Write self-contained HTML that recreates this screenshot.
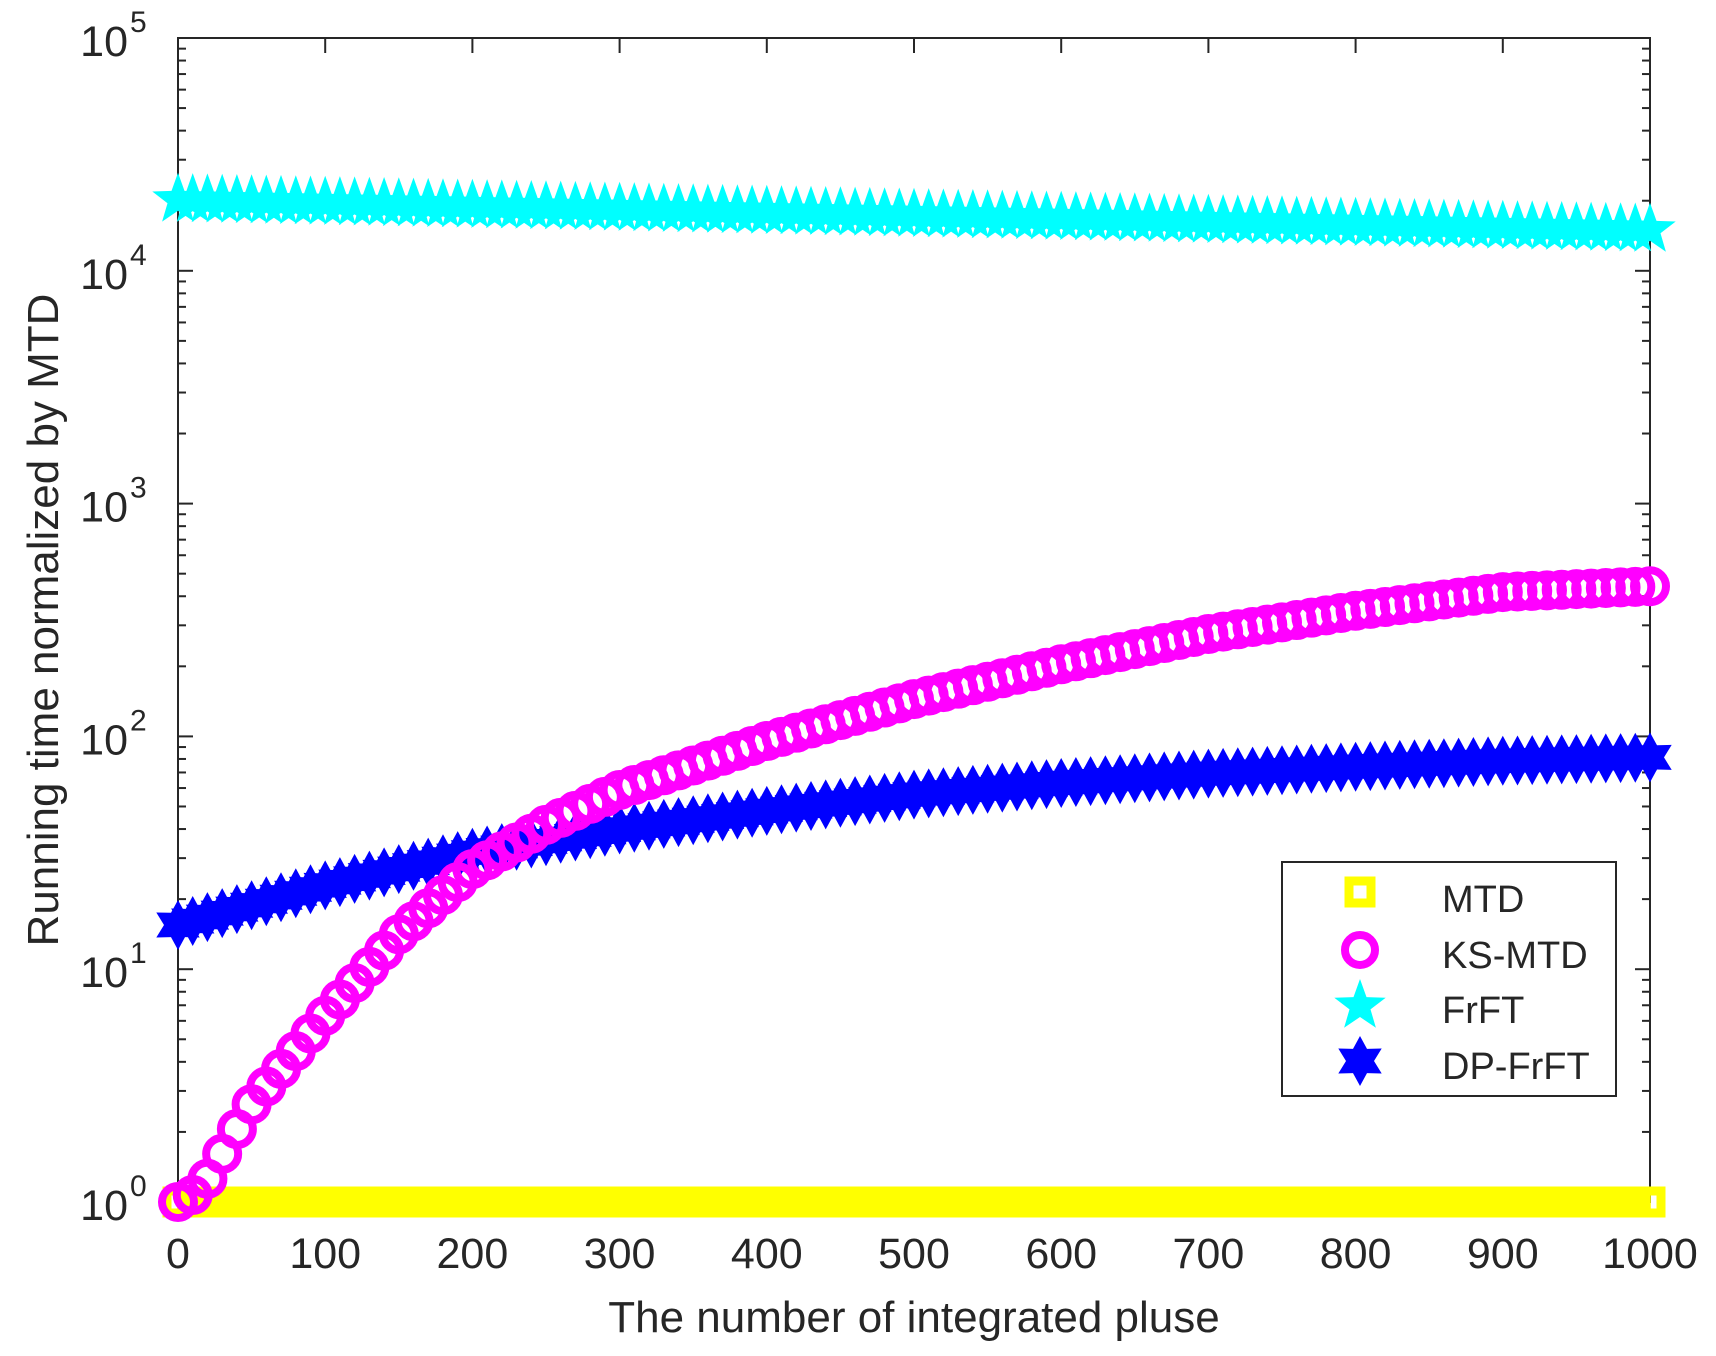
<!DOCTYPE html>
<html><head><meta charset="utf-8"><style>
html,body{margin:0;padding:0;background:#fff;}
svg{display:block;}
text{font-family:"Liberation Sans",Arial,sans-serif;fill:#262626;}
</style></head><body>
<svg id="s" width="1716" height="1356" viewBox="0 0 1716 1356" xmlns="http://www.w3.org/2000/svg">
<rect x="0" y="0" width="1716" height="1356" fill="#fff"/>
<rect x="178" y="38" width="1472" height="1164" fill="none" stroke="#262626" stroke-width="2"/>
<g id="ticks"></g>
<g id="data"></g>
<g id="labels" font-size="43"></g>
<text x="914" y="1332" font-size="44" text-anchor="middle">The number of integrated pluse</text>
<text transform="translate(58,620) rotate(-90)" font-size="44" text-anchor="middle">Running time normalized by MTD</text>
<g id="legend">
<rect x="1282" y="862" width="334" height="234" fill="#fff" stroke="#262626" stroke-width="2"/>
<text x="1442" y="912" font-size="38">MTD</text>
<text x="1442" y="968" font-size="38">KS-MTD</text>
<text x="1442" y="1023" font-size="38">FrFT</text>
<text x="1442" y="1079" font-size="38">DP-FrFT</text>
</g>
</svg>
<script>
var NS="http://www.w3.org/2000/svg";
var X0=178,X1=1650,Y0=1202,Y5=38,D=(Y0-Y5)/5;
function px(x){return X0+(X1-X0)*x/1000;}
function py(l){return Y0-l*D;}
function el(p,t,a){var e=document.createElementNS(NS,t);for(var k in a)e.setAttribute(k,a[k]);p.appendChild(e);return e;}
var T=document.getElementById('ticks'),L=document.getElementById('labels'),G=document.getElementById('data');
for(var d=0;d<5;d++){for(var m=1;m<10;m++){var y=py(d+Math.log10(m));var len=m==1?15:8;
el(T,'line',{x1:X0,x2:X0+len,y1:y,y2:y,stroke:'#262626','stroke-width':2});
el(T,'line',{x1:X1,x2:X1-len,y1:y,y2:y,stroke:'#262626','stroke-width':2});}}
for(var d=0;d<=5;d++){var y=py(d);var t=el(L,'text',{x:128,y:y+18,'text-anchor':'end'});t.textContent='10';
var s=el(L,'text',{x:130,y:y-6,'font-size':30});s.textContent=d;}
for(var i=0;i<=10;i++){var x=px(i*100);
el(T,'line',{x1:x,x2:x,y1:Y0,y2:Y0-15,stroke:'#262626','stroke-width':2});
el(T,'line',{x1:x,x2:x,y1:Y5,y2:Y5+15,stroke:'#262626','stroke-width':2});
var t=el(L,'text',{x:x,y:1268,'text-anchor':'middle'});t.textContent=String(i*100);}
function interp(pts,x){for(var i=0;i<pts.length-1;i++){if(x<=pts[i+1][0]){var a=pts[i],b=pts[i+1];return a[1]+(b[1]-a[1])*(x-a[0])/(b[0]-a[0]);}}return pts[pts.length-1][1];}
var ks=[[0,0],[10,0.03],[20,0.1],[50,0.42],[100,0.8],[150,1.15],[200,1.43],[250,1.62],[300,1.77],[400,1.98],[500,2.16],[600,2.31],[700,2.44],[800,2.54],[900,2.62],[1000,2.645]];
var dp=[[0,1.19],[100,1.36],[200,1.5],[300,1.6],[400,1.68],[500,1.75],[600,1.8],[700,1.84],[800,1.87],[900,1.895],[1000,1.91]];
var fr=[[0,4.305],[1000,4.176]];
function star(cx,cy,R,r,n,rot){var p=[];for(var i=0;i<2*n;i++){var a=rot+Math.PI*i/n;var rr=i%2?r:R;p.push((cx+rr*Math.sin(a)).toFixed(1)+','+(cy-rr*Math.cos(a)).toFixed(1));}return p.join(' ');}
for(var x=0;x<=1000;x+=10){var cx=px(x),cy=py(0);el(G,'rect',{x:cx-11,y:cy-11,width:22,height:22,fill:'none',stroke:'#ffff00','stroke-width':9});}
for(var x=0;x<=1000;x+=10){el(G,'polygon',{points:star(px(x),py(interp(fr,x)),27,11,5,0),fill:'#00ffff'});}
for(var x=0;x<=1000;x+=10){el(G,'polygon',{points:star(px(x),py(interp(dp,x)),25,14,6,0),fill:'#0000ff'});}
for(var x=0;x<=1000;x+=10){el(G,'circle',{cx:px(x),cy:py(interp(ks,x)),r:16,fill:'none',stroke:'#ff00ff','stroke-width':8});}
var LG=document.getElementById('legend');
el(LG,'rect',{x:1349,y:881,width:22,height:22,fill:'none',stroke:'#ffff00','stroke-width':9});
el(LG,'circle',{cx:1360,cy:950,r:15,fill:'none',stroke:'#ff00ff','stroke-width':8});
el(LG,'polygon',{points:star(1360,1006,27,11,5,0),fill:'#00ffff'});
el(LG,'polygon',{points:star(1360,1061,25,14,6,0),fill:'#0000ff'});
</script>
</body></html>
